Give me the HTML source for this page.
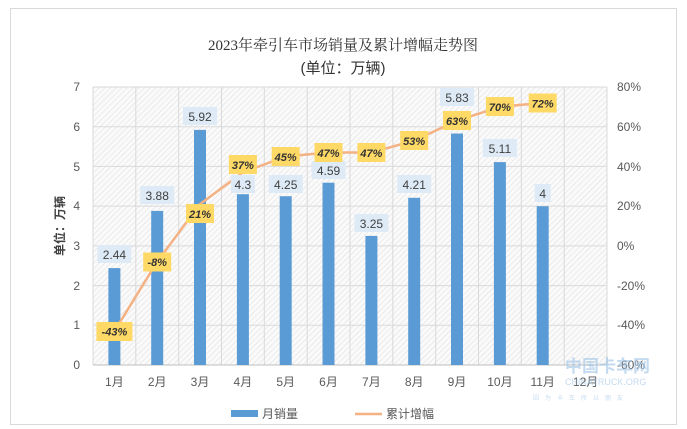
<!DOCTYPE html>
<html><head><meta charset="utf-8"><style>
html,body{margin:0;padding:0;background:#fff;}
svg{display:block;font-family:"Liberation Sans","Noto Sans CJK SC",sans-serif;}
</style></head><body>
<svg width="687" height="429" viewBox="0 0 687 429" xmlns="http://www.w3.org/2000/svg">
<defs>
<pattern id="h" width="4" height="4" patternUnits="userSpaceOnUse" patternTransform="rotate(45)">
<rect width="4" height="4" fill="#fafafa"/><line x1="0" y1="0" x2="0" y2="4" stroke="#dcdcdc" stroke-width="1"/>
</pattern>
</defs>
<rect x="10.5" y="8.5" width="666" height="416" fill="#fff" stroke="#d9d9d9"/>
<text x="343" y="50" text-anchor="middle" font-size="15" fill="#333" font-family="Liberation Serif,'Noto Serif CJK SC',serif">2023年牵引车市场销量及累计增幅走势图</text>
<text x="343" y="73" text-anchor="middle" font-size="15" fill="#333">(单位：万辆)</text>
<rect x="93" y="87" width="514" height="278" fill="url(#h)"/>
<g stroke="#d9d9d9" stroke-width="1">
<line x1="93" y1="87" x2="607" y2="87"/><line x1="93" y1="126.7" x2="607" y2="126.7"/><line x1="93" y1="166.4" x2="607" y2="166.4"/><line x1="93" y1="206.1" x2="607" y2="206.1"/><line x1="93" y1="245.9" x2="607" y2="245.9"/><line x1="93" y1="285.6" x2="607" y2="285.6"/><line x1="93" y1="325.3" x2="607" y2="325.3"/>
<line x1="93" y1="87" x2="93" y2="365"/><line x1="135.8" y1="87" x2="135.8" y2="365"/><line x1="178.7" y1="87" x2="178.7" y2="365"/><line x1="221.5" y1="87" x2="221.5" y2="365"/><line x1="264.3" y1="87" x2="264.3" y2="365"/><line x1="307.2" y1="87" x2="307.2" y2="365"/><line x1="350" y1="87" x2="350" y2="365"/><line x1="392.8" y1="87" x2="392.8" y2="365"/><line x1="435.7" y1="87" x2="435.7" y2="365"/><line x1="478.5" y1="87" x2="478.5" y2="365"/><line x1="521.3" y1="87" x2="521.3" y2="365"/><line x1="564.2" y1="87" x2="564.2" y2="365"/><line x1="607" y1="87" x2="607" y2="365"/>
<line x1="93" y1="365" x2="607" y2="365" stroke="#bfbfbf"/>
</g>
<g font-size="12" fill="#595959" text-anchor="end">
<text x="80" y="91">7</text><text x="80" y="131">6</text><text x="80" y="171">5</text><text x="80" y="210">4</text><text x="80" y="250">3</text><text x="80" y="290">2</text><text x="80" y="329">1</text><text x="80" y="369">0</text>
</g>
<g font-size="12" fill="#595959" text-anchor="start">
<text x="617" y="91">80%</text><text x="617" y="131">60%</text><text x="617" y="171">40%</text><text x="617" y="210">20%</text><text x="617" y="250">0%</text><text x="617" y="290">-20%</text><text x="617" y="329">-40%</text><text x="617" y="369">-60%</text>
</g>
<text transform="translate(64,226) rotate(-90)" text-anchor="middle" font-size="12" font-weight="bold" fill="#404040">单位：万辆</text>
<g font-size="12" fill="#595959" text-anchor="middle">
<text x="114.4" y="386">1月</text><text x="157.2" y="386">2月</text><text x="200" y="386">3月</text><text x="242.9" y="386">4月</text><text x="285.7" y="386">5月</text><text x="328.5" y="386">6月</text><text x="371.4" y="386">7月</text><text x="414.2" y="386">8月</text><text x="457" y="386">9月</text><text x="499.9" y="386">10月</text><text x="542.7" y="386">11月</text><text x="585.6" y="386">12月</text>
</g>
<g fill="#5b9bd5">
<rect x="108.4" y="268.1" width="12" height="96.9"/><rect x="151.2" y="210.9" width="12" height="154.1"/><rect x="194" y="129.9" width="12" height="235.1"/><rect x="236.9" y="194.2" width="12" height="170.8"/><rect x="279.7" y="196.2" width="12" height="168.8"/><rect x="322.5" y="182.7" width="12" height="182.3"/><rect x="365.4" y="235.9" width="12" height="129.1"/><rect x="408.2" y="197.8" width="12" height="167.2"/><rect x="451" y="133.5" width="12" height="231.5"/><rect x="493.9" y="162.1" width="12" height="202.9"/><rect x="536.7" y="206.2" width="12" height="158.8"/>
</g>
<polyline fill="none" stroke="#f4b183" stroke-width="2.5" points="114.4,331.2 157.2,261.7 200,204.1 242.9,172.4 285.7,156.5 328.5,152.5 371.4,152.5 414.2,140.6 457,120.7 499.9,106.8 542.7,102.9"/>
<g font-size="12" fill="#404040" text-anchor="middle">
<rect x="97.4" y="245" width="34" height="18" fill="#deebf7"/><text x="114.4" y="259">2.44</text>
<rect x="140.2" y="186" width="34" height="18" fill="#deebf7"/><text x="157.2" y="200">3.88</text>
<rect x="183" y="107" width="34" height="18" fill="#deebf7"/><text x="200" y="121">5.92</text>
<rect x="230.9" y="175" width="24" height="18" fill="#deebf7"/><text x="242.9" y="189">4.3</text>
<rect x="268.7" y="175" width="34" height="18" fill="#deebf7"/><text x="285.7" y="189">4.25</text>
<rect x="311.5" y="161" width="34" height="18" fill="#deebf7"/><text x="328.5" y="175">4.59</text>
<rect x="354.4" y="214" width="34" height="18" fill="#deebf7"/><text x="371.4" y="228">3.25</text>
<rect x="397.2" y="175" width="34" height="18" fill="#deebf7"/><text x="414.2" y="189">4.21</text>
<rect x="440" y="88" width="34" height="18" fill="#deebf7"/><text x="457" y="102">5.83</text>
<rect x="482.9" y="139" width="34" height="18" fill="#deebf7"/><text x="499.9" y="153">5.11</text>
<rect x="534.7" y="184" width="16" height="18" fill="#deebf7"/><text x="542.7" y="198">4</text>
</g>
<g font-size="11" font-weight="bold" font-style="italic" fill="#333" text-anchor="middle">
<rect x="96.4" y="322" width="36" height="19" fill="#ffd966"/><text x="114.4" y="335.5">-43%</text>
<rect x="143.2" y="252.5" width="28" height="19" fill="#ffd966"/><text x="157.2" y="266">-8%</text>
<rect x="186" y="204" width="28" height="19" fill="#ffd966"/><text x="200" y="218">21%</text>
<rect x="228.9" y="155" width="28" height="19" fill="#ffd966"/><text x="242.9" y="169">37%</text>
<rect x="271.7" y="147" width="28" height="19" fill="#ffd966"/><text x="285.7" y="161">45%</text>
<rect x="314.5" y="143" width="28" height="19" fill="#ffd966"/><text x="328.5" y="157">47%</text>
<rect x="357.4" y="143" width="28" height="19" fill="#ffd966"/><text x="371.4" y="157">47%</text>
<rect x="400.2" y="131" width="28" height="19" fill="#ffd966"/><text x="414.2" y="145">53%</text>
<rect x="443" y="111" width="28" height="19" fill="#ffd966"/><text x="457" y="125">63%</text>
<rect x="485.9" y="97" width="28" height="19" fill="#ffd966"/><text x="499.9" y="111">70%</text>
<rect x="528.7" y="93.5" width="28" height="19" fill="#ffd966"/><text x="542.7" y="107.5">72%</text>
</g>
<rect x="231" y="410" width="27" height="7" fill="#5b9bd5"/>
<text x="262" y="418" font-size="12" fill="#595959">月销量</text>
<line x1="355" y1="414" x2="382" y2="414" stroke="#f4b183" stroke-width="2.5"/>
<text x="386" y="418" font-size="12" fill="#595959">累计增幅</text>
<g opacity="0.6">
<text x="565" y="372" font-size="17" font-weight="bold" fill="#9dc3e6">中国卡车网</text>
<text x="565" y="385" font-size="9" fill="#9dc3e6">CHINATRUCK.ORG</text>
<text x="533" y="400" font-size="6" fill="#9dc3e6" letter-spacing="6">因为卡车所以朋友</text>
</g>
</svg>
</body></html>
